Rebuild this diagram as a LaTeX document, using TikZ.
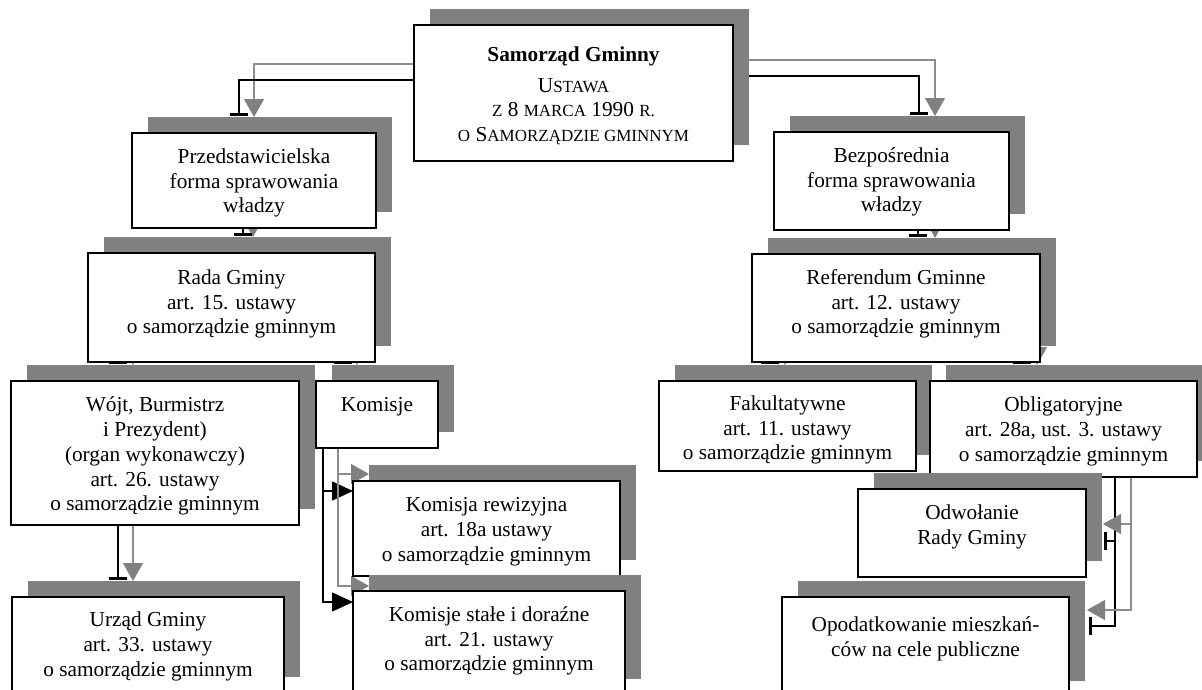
\documentclass[tikz,border=0pt]{standalone}
\usepackage{fontspec}
\setmainfont{Liberation Serif}
\usetikzlibrary{arrows.meta,calc,shadows}
\definecolor{shgray}{HTML}{808080}
\definecolor{lngray}{HTML}{8C8C8C}
\newcommand\smc[1]{{\fontsize{17}{17}\selectfont #1}}
\newcommand\firststrut{\rule{0pt}{15.5pt}}
\pgfdeclarelayer{bg}
\pgfsetlayers{bg,main}
\begin{document}
\begin{tikzpicture}[x=1pt,y=-1pt,
  bx/.style={draw=black, line width=1.8pt, fill=white, anchor=north west,
    inner sep=0pt, outer sep=0pt,
    general shadow={fill=shgray, shadow xshift=16pt, shadow yshift=16pt}},
  txt/.style={anchor=north, align=center, inner sep=0pt,
    font=\fontsize{21.3}{24.8}\selectfont},
  gl/.style={draw=lngray, line width=1.1pt, -{Triangle[width=20pt,length=18pt,color=shgray]}},
  bl/.style={draw=black, line width=1.5pt, -{Bar[width=18pt,line width=3pt]}},
  ba/.style={draw=black, line width=1.5pt, -{Triangle[width=19pt,length=21pt]}}]
\useasboundingbox (0,0) rectangle (1202,689);
\clip (0,0) rectangle (1202,689);

% frames
\node[bx, minimum width=319pt, minimum height=136pt] (A) at (414,25) {};
\node[bx, minimum width=244pt, minimum height=95pt]  (B) at (132,133) {};
\node[bx, minimum width=235pt, minimum height=98pt]  (C) at (774,132) {};
\node[bx, minimum width=287pt, minimum height=109pt] (D) at (88,253) {};
\node[bx, minimum width=288pt, minimum height=108pt] (E) at (752,254) {};
\node[bx, minimum width=288pt, minimum height=144pt] (F) at (11,381) {};
\node[bx, minimum width=122pt, minimum height=67pt]  (G) at (316,381) {};
\node[bx, minimum width=257pt, minimum height=90pt]  (K) at (659,381) {};
\node[bx, minimum width=267pt, minimum height=96pt]  (L) at (930,381) {};
\node[bx, minimum width=267pt, minimum height=95pt]  (H) at (353,481) {};
\node[bx, minimum width=228pt, minimum height=88pt]  (M) at (858,489) {};
\node[bx, minimum width=272pt, minimum height=104pt] (I) at (353,591) {};
\node[bx, minimum width=272pt, minimum height=96pt]  (J) at (12,597) {};
\node[bx, minimum width=287pt, minimum height=100pt] (N) at (782,597) {};

% texts
\node[txt] (At) at ($(A.north)+(0,-20.5pt)$) {\firststrut\textbf{Samorząd Gminny}\\[6pt]
  U\smc{STAWA}\\ \smc{Z} 8 \smc{MARCA} 1990 \smc{R.}\\ \smc{O} S\smc{AMORZĄDZIE GMINNYM}};
\node[txt] (Bt) at ($(B.north)+(0,-14.5pt)$) {\firststrut Przedstawicielska\\forma sprawowania\\władzy};
\node[txt] (Ct) at ($(C.north)+(0,-14.5pt)$) {\firststrut Bezpośrednia\\forma sprawowania\\władzy};
\node[txt] (Dt) at ($(D.north)+(0,-15.5pt)$) {\firststrut Rada Gminy\\art. 15. ustawy\\o samorządzie gminnym};
\node[txt] (Et) at ($(E.north)+(0,-14.5pt)$) {\firststrut Referendum Gminne\\art. 12. ustawy\\o samorządzie gminnym};
\node[txt] (Ft) at ($(F.north)+(0,-15pt)$) {\firststrut Wójt, Burmistrz\\i Prezydent)\\(organ wykonawczy)\\art. 26. ustawy\\o samorządzie gminnym};
\node[txt] (Gt) at ($(G.north)+(0,-14.5pt)$) {\firststrut Komisje};
\node[txt] (Ht) at ($(H.north)+(0,-15pt)$) {\firststrut Komisja rewizyjna\\art. 18a ustawy\\o samorządzie gminnym};
\node[txt] (It) at ($(I.north)+(0,-14.5pt)$) {\firststrut Komisje stałe i doraźne\\art. 21. ustawy\\o samorządzie gminnym};
\node[txt] (Jt) at ($(J.north)+(0,-14pt)$) {\firststrut Urząd Gminy\\art. 33. ustawy\\o samorządzie gminnym};
\node[txt] (Kt) at ($(K.north)+(0,-13.5pt)$) {\firststrut Fakultatywne\\art. 11. ustawy\\o samorządzie gminnym};
\node[txt] (Lt) at ($(L.north)+(0,-15pt)$) {\firststrut Obligatoryjne\\art. 28a, ust. 3. ustawy\\o samorządzie gminnym};
\node[txt] (Mt) at ($(M.north)+(0,-15pt)$) {\firststrut Odwołanie\\Rady Gminy};
\node[txt] (Nt) at ($(N.north)+(0,-18.5pt)$) {\firststrut Opodatkowanie mieszkań-\\ców na cele publiczne};

% connectors
\begin{pgfonlayer}{bg}
\draw[gl] ($(A.north west)+(0,-39pt)$) -| ($(B.north west)+(122pt,16pt)$);
\draw[bl] ($(A.north west)+(0,-55pt)$) -| ($(B.north west)+(107pt,17.5pt)$);
\draw[gl] ($(A.north east)+(0,-35pt)$) -| ($(C.north west)+(161pt,16pt)$);
\draw[bl] ($(A.north east)+(0,-51pt)$) -| ($(C.north west)+(145pt,17.5pt)$);

\draw[gl] ($(B.south west)+(121pt,0)$) -- ($(D.north west)+(165pt,16pt)$);
\draw[bl] ($(B.south west)+(111pt,0)$) -- ($(D.north west)+(155pt,17.5pt)$);
\draw[gl] ($(C.south west)+(161pt,0)$) -- ($(E.north west)+(183pt,16pt)$);
\draw[bl] ($(C.south west)+(144pt,0)$) -- ($(E.north west)+(166pt,17.5pt)$);

\draw[gl] ($(D.south west)+(45pt,0)$) -- ($(F.north west)+(122pt,16pt)$);
\draw[bl] ($(D.south west)+(30pt,0)$) -- ($(F.north west)+(107pt,17.5pt)$);
\draw[gl] ($(D.south west)+(269pt,0)$) -- ($(G.north west)+(41pt,16pt)$);
\draw[bl] ($(D.south west)+(255pt,0)$) -- ($(G.north west)+(27pt,17.5pt)$);

\draw[gl] ($(E.south west)+(33pt,0)$) -- ($(K.north west)+(126pt,16pt)$);
\draw[bl] ($(E.south west)+(18pt,0)$) -- ($(K.north west)+(111pt,17.5pt)$);
\draw[gl] ($(E.south west)+(285pt,0)$) -- ($(L.north west)+(107pt,16pt)$);
\draw[bl] ($(E.south west)+(270pt,0)$) -- ($(L.north west)+(92pt,17.5pt)$);

\draw[gl] ($(F.south west)+(122pt,0)$) -- ($(J.north west)+(121pt,16pt)$);
\draw[bl] ($(F.south west)+(107pt,0)$) -- ($(J.north west)+(106pt,17.5pt)$);

\draw[ba] ($(G.south west)+(7pt,0)$) |- ($(H.north west)+(0,-10pt)$);
\draw[ba] ($(G.south west)+(7pt,0)$) |- ($(I.north west)+(0,-11pt)$);
\draw[gl] ($(G.south west)+(22pt,0)$) |- ($(H.north west)+(16pt,7pt)$);
\draw[gl] ($(G.south west)+(22pt,0)$) |- ($(I.north west)+(16pt,5pt)$);

\draw[bl] ($(L.south west)+(185pt,0)$) |- ($(M.north east)+(18pt,-52pt)$);
\draw[bl] ($(L.south west)+(185pt,0)$) |- ($(N.north east)+(20pt,-29pt)$);
\draw[gl] ($(L.south west)+(201pt,0)$) |- ($(M.north east)+(17pt,-35pt)$);
\draw[gl] ($(L.south west)+(201pt,0)$) |- ($(N.north east)+(18pt,-13pt)$);
\end{pgfonlayer}
\end{tikzpicture}
\end{document}
